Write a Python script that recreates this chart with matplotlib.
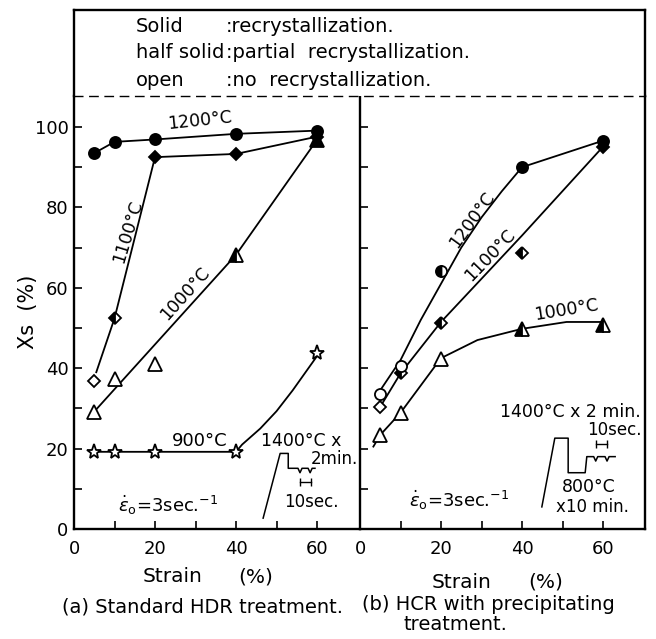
import matplotlib.pyplot as plt

W, H = 656, 639

# --- data -----------------------------------------------------------------
strain = [5, 10, 20, 40, 60]

# (a) standard HDR treatment
a_1200 = [93.5, 96.3, 96.9, 98.3, 99.1]
a_1200_state = ['solid', 'solid', 'solid', 'solid', 'solid']
a_1100 = [36.8, 52.4, 92.5, 93.3, 97.6]
a_1100_state = ['open', 'half', 'solid', 'solid', 'solid']
a_1000 = [29.2, 37.3, 41.0, 68.2, 96.8]
a_1000_state = ['open', 'open', 'open', 'half', 'solid']
a_900 = [19.2, 19.2, 19.2, 19.2, 43.7]
a_900_state = ['open', 'open', 'open', 'open', 'open']

# hand-drawn curves in (a)
a_1200_cx = [5, 10, 20, 40, 60]
a_1200_cy = [93.5, 96.3, 96.9, 98.3, 99.1]
a_1100_cx = [5.5, 10, 20, 40, 60]
a_1100_cy = [39, 52.4, 92.5, 93.3, 97.6]
a_1000_cx = [5, 40, 60]
a_1000_cy = [29.2, 68.2, 96.8]
a_900_cx = [5, 40, 41.5, 46, 50, 54, 60]
a_900_cy = [19.2, 19.2, 21, 25, 29.3, 34.5, 43]

# (b) HCR with precipitating treatment
b_1200 = [33.7, 40.5, 64.3, 90.0, 96.6]
b_1200_state = ['open', 'open', 'half', 'solid', 'solid']
b_1100 = [30.4, 38.7, 51.3, 68.7, 95.1]
b_1100_state = ['open', 'half', 'half', 'half', 'solid']
b_1000 = [23.4, 28.9, 42.2, 49.7, 50.7]
b_1000_state = ['open', 'open', 'open', 'half', 'half']

b_1200_cx = [5, 10, 15, 20, 25, 30, 35, 40, 60]
b_1200_cy = [34.5, 42, 52, 61, 70, 77.5, 84, 90, 96.6]
b_1100_cx = [5, 10, 20, 40, 60]
b_1100_cy = [30.4, 38.7, 51.5, 73, 95.1]
b_1000_cx = [3.3, 5, 10, 20, 29, 40, 51, 60]
b_1000_cy = [20.5, 23.4, 28.9, 42.5, 47, 49.8, 51.5, 51.5]

# heat-treatment schematics (drawn in data units of each panel)
sch_a_x = [46.7, 50.9, 52.9, 52.9, 55.3, 55.8, 56.3, 57.8, 58.3, 58.8, 59.5]
sch_a_y = [2.7, 18.8, 18.8, 15.1, 15.1, 14.0, 15.1, 15.1, 14.0, 15.1, 15.1]
span_a_x = [55.8, 58.4]
span_a_y = [11.8, 11.8]
sch_b_x = [44.9, 48.1, 51.4, 51.4, 55.6, 56.0, 57.7, 58.2, 58.7, 60.5, 61.0, 61.5, 63.0]
sch_b_y = [5.5, 22.6, 22.6, 14.0, 14.0, 18.0, 18.0, 16.9, 18.0, 18.0, 16.9, 18.0, 18.0]
span_b_x = [58.2, 61.0]
span_b_y = [21.1, 21.1]

legend_keys = ['Solid', 'half solid', 'open']
legend_text = [':recrystallization.', ':partial  recrystallization.',
               ':no  recrystallization.']

plt.rcParams['font.family'] = 'DejaVu Sans'

fig = plt.figure(figsize=(W / 100, H / 100), dpi=100)


def fx(px):
    return px / W


def fy(py):
    return 1 - py / H


axa = fig.add_axes([fx(74), fy(529), (360 - 74) / W, (529 - 96) / H])
axb = fig.add_axes([fx(360), fy(529), (645 - 360) / W, (529 - 96) / H])
head = fig.add_axes([fx(74), fy(96), (645 - 74) / W, (96 - 10) / H])

for ax in (axa, axb):
    ax.set_ylim(0, (529 - 96) / 4.02)
    ax.spines['top'].set_visible(False)
    ax.set_xticks([0, 20, 40, 60])
    ax.set_xticks([10, 30, 50], minor=True)
    ax.set_yticks([0, 20, 40, 60, 80, 100])
    ax.set_yticks([10, 30, 50, 70, 90], minor=True)
    ax.tick_params(which='both', direction='in', length=6, width=1.2,
                   labelsize=13, right=False, top=False)
    ax.tick_params(axis='x', pad=8)
    ax.tick_params(axis='y', pad=4)
    for s in ax.spines.values():
        s.set_linewidth(1.7)
axa.set_xlim(0, (360 - 74) / 4.05)
axb.set_xlim(0, (645 - 360) / 4.05)
axa.spines['right'].set_visible(False)
axb.tick_params(axis='y', labelleft=False)

head.set_xticks([])
head.set_yticks([])
for s in head.spines.values():
    s.set_linewidth(1.7)
head.spines['bottom'].set_linewidth(1.0)
head.spines['bottom'].set_linestyle((0, (6, 5)))


def draw_points(ax, xs, ys, states, marker, ms):
    for x, y, st in zip(xs, ys, states):
        if st == 'solid':
            ax.plot(x, y, marker=marker, ms=ms, mfc='black', mec='black',
                    mew=1.3, ls='none', zorder=3)
        elif st == 'half':
            ax.plot(x, y, marker=marker, ms=ms, mfc='black', mfcalt='white',
                    fillstyle='left', mec='black', mew=1.3, ls='none', zorder=3)
        else:
            ax.plot(x, y, marker=marker, ms=ms, mfc='white', mec='black',
                    mew=1.3, ls='none', zorder=3)


lw = 1.3
# panel (a)
axa.plot(a_1200_cx, a_1200_cy, color='black', lw=lw)
axa.plot(a_1100_cx, a_1100_cy, color='black', lw=lw)
axa.plot(a_1000_cx, a_1000_cy, color='black', lw=lw)
axa.plot(a_900_cx, a_900_cy, color='black', lw=lw)
draw_points(axa, strain, a_900, a_900_state, '*', 11)
draw_points(axa, strain, a_1000, a_1000_state, '^', 10)
draw_points(axa, strain, a_1100, a_1100_state, 'D', 6.5)
draw_points(axa, strain, a_1200, a_1200_state, 'o', 8)

axa.text(31, 101.5, '1200°C', fontsize=12.5, rotation=6, ha='center', va='center')
axa.text(13.3, 74, '1100°C', fontsize=12.5, rotation=73, ha='center', va='center')
axa.text(27.4, 58.6, '1000°C', fontsize=12.5, rotation=48, ha='center', va='center')
axa.text(31, 21.9, '900°C', fontsize=13, ha='center', va='center')
axa.text(23.3, 6, r'$\dot{\varepsilon}_{\rm o}$=3sec.$^{-1}$', fontsize=13,
         ha='center', va='center')

axa.plot(sch_a_x, sch_a_y, color='black', lw=1.1)
axa.plot(span_a_x, span_a_y, color='black', lw=1.0, marker='|', ms=6)
axa.text(56.2, 21.8, '1400°C x', fontsize=12.5, ha='center', va='center')
axa.text(64.3, 17.3, '2min.', fontsize=12, ha='center', va='center')
axa.text(58.7, 6.8, '10sec.', fontsize=12, ha='center', va='center')

# panel (b)
axb.plot(b_1200_cx, b_1200_cy, color='black', lw=lw)
axb.plot(b_1100_cx, b_1100_cy, color='black', lw=lw)
axb.plot(b_1000_cx, b_1000_cy, color='black', lw=lw)
draw_points(axb, strain, b_1000, b_1000_state, '^', 10)
draw_points(axb, strain, b_1100, b_1100_state, 'D', 6.5)
draw_points(axb, strain, b_1200, b_1200_state, 'o', 8)

axb.text(27.8, 77, '1200°C', fontsize=12.5, rotation=54, ha='center', va='center')
axb.text(32.2, 68, '1100°C', fontsize=12.5, rotation=46, ha='center', va='center')
axb.text(51, 54.6, '1000°C', fontsize=12.5, rotation=9, ha='center', va='center')
axb.text(24.4, 7.2, r'$\dot{\varepsilon}_{\rm o}$=3sec.$^{-1}$', fontsize=13,
         ha='center', va='center')

axb.plot(sch_b_x, sch_b_y, color='black', lw=1.1)
axb.plot(span_b_x, span_b_y, color='black', lw=1.0, marker='|', ms=6)
axb.text(52, 29.2, '1400°C x 2 min.', fontsize=12.5, ha='center', va='center')
axb.text(62.7, 24.6, '10sec.', fontsize=12, ha='center', va='center')
axb.text(56.4, 10.5, '800°C', fontsize=12.5, ha='center', va='center')
axb.text(57.5, 5.5, 'x10 min.', fontsize=12, ha='center', va='center')

# header legend
for py, key, txt in zip([27, 53, 80], legend_keys, legend_text):
    fig.text(fx(136), fy(py), key, fontsize=14, ha='left', va='center')
    fig.text(fx(226), fy(py), txt, fontsize=14, ha='left', va='center')

# axis labels and captions
fig.text(fx(28), fy(312), 'Xs  (%)', fontsize=15, rotation=90,
         ha='center', va='center')
fig.text(fx(173), fy(577), 'Strain', fontsize=14.5, ha='center', va='center')
fig.text(fx(256), fy(577), '(%)', fontsize=14.5, ha='center', va='center')
fig.text(fx(462), fy(582), 'Strain', fontsize=14.5, ha='center', va='center')
fig.text(fx(546), fy(582), '(%)', fontsize=14.5, ha='center', va='center')
fig.text(fx(62), fy(607), '(a) Standard HDR treatment.', fontsize=14,
         ha='left', va='center')
fig.text(fx(362), fy(605), '(b) HCR with precipitating', fontsize=14,
         ha='left', va='center')
fig.text(fx(455), fy(625), 'treatment.', fontsize=14, ha='center', va='center')

fig.savefig('out.png', dpi=100)
